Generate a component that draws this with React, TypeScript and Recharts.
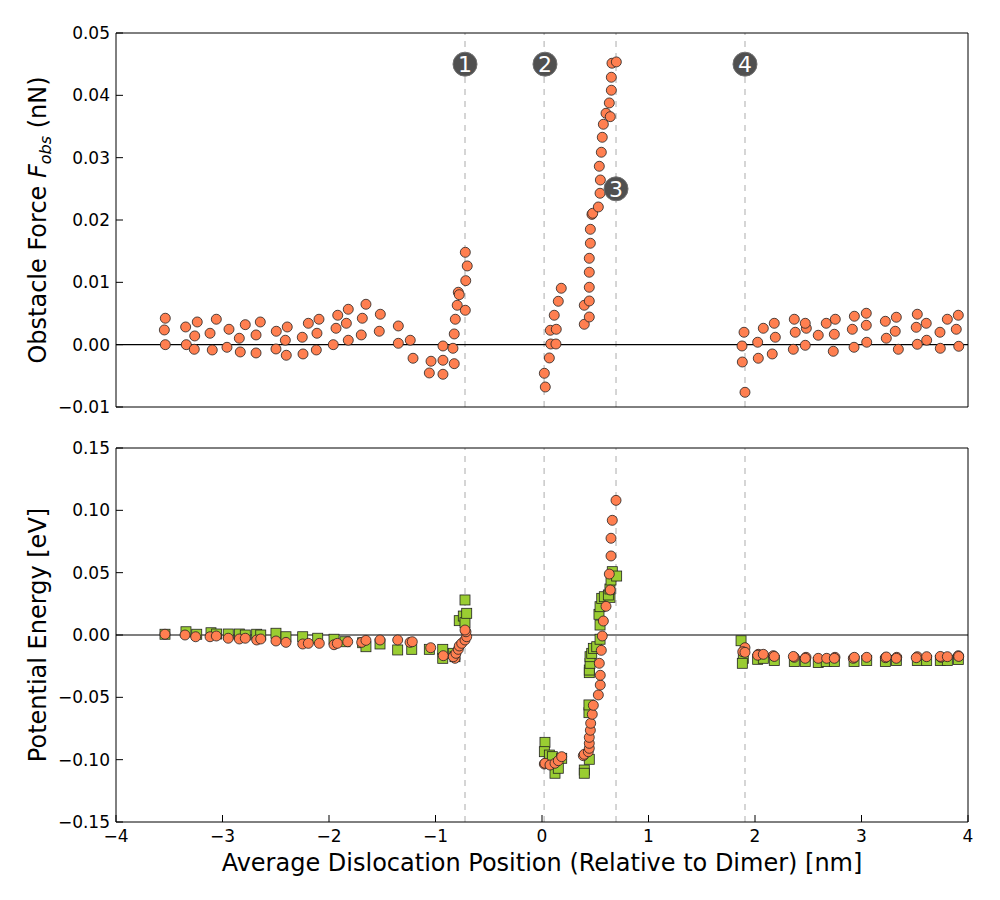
import React from "react";
import {
  ReferenceDot,
  ReferenceLine,
  Scatter,
  ScatterChart,
  XAxis,
  YAxis,
} from "recharts";

// Positions along the dislocation path (nm) paired with obstacle force (nN)
const forcePoints: [number, number][] = [
  [-3.537, 0.00424], [-3.546, 0.00236], [-3.537, 0.0], [-3.346, 0.00284], [-3.34, 0.0],
  [-3.237, 0.00364], [-3.261, 0.0014], [-3.265, -0.00074], [-3.058, 0.00408], [-3.117, 0.00183],
  [-3.096, -0.00085], [-2.939, 0.00247], [-2.842, 0.00103], [-2.958, -0.00042], [-2.833, -0.00117],
  [-2.786, 0.00321], [-2.685, 0.00156], [-2.645, 0.00364], [-2.685, -0.00133], [-2.495, 0.00215],
  [-2.498, -0.00069], [-2.392, 0.00284], [-2.41, 0.00071], [-2.401, -0.0017], [-2.251, 0.00119],
  [-2.244, -0.00149], [-2.194, 0.00343], [-2.094, 0.00408], [-2.113, 0.00183], [-2.119, -0.00085],
  [-1.918, 0.00472], [-1.934, 0.00263], [-1.96, 0.0], [-1.819, 0.00568], [-1.837, 0.00343],
  [-1.819, 0.00071], [-1.653, 0.00648], [-1.687, 0.00424], [-1.697, 0.00156], [-1.518, 0.00488],
  [-1.528, 0.00215], [-1.349, 0.003], [-1.349, 0.00022], [-1.237, 0.00071], [-1.211, -0.00218],
  [-1.042, -0.00266], [-1.058, -0.00454], [-0.93, -0.00021], [-0.93, -0.0025], [-0.93, -0.00475],
  [-0.836, -0.00058], [-0.824, -0.00305], [-0.824, 0.00172], [-0.814, 0.00408], [-0.796, 0.00632],
  [-0.786, 0.00841], [-0.777, 0.00802], [-0.72, 0.00552], [-0.716, 0.01027], [-0.702, 0.01263],
  [-0.72, 0.01482],
  [0.022, -0.00459], [0.031, -0.00679], [0.069, -0.00213], [0.078, 0.00231], [0.082, 0.00011],
  [0.131, 0.00011], [0.134, 0.00247], [0.115, 0.00472], [0.153, 0.00696], [0.181, 0.00905],
  [0.397, 0.00327], [0.444, 0.00444], [0.397, 0.00632], [0.444, 0.00701], [0.444, 0.00921],
  [0.444, 0.01162], [0.444, 0.01386], [0.454, 0.01627], [0.454, 0.01851], [0.469, 0.0209],
  [0.476, 0.02108], [0.529, 0.02209], [0.545, 0.02429], [0.548, 0.02642], [0.538, 0.02862],
  [0.557, 0.03087], [0.566, 0.03327], [0.576, 0.03536], [0.601, 0.03712], [0.641, 0.03658],
  [0.632, 0.03878], [0.651, 0.04082], [0.651, 0.0429], [0.657, 0.04515], [0.698, 0.04536],
  [1.878, -0.00021], [1.881, -0.00278], [1.897, 0.00199], [1.906, -0.00764], [2.025, 0.00039],
  [2.031, -0.00218], [2.078, 0.00263], [2.162, -0.00149], [2.191, 0.00119], [2.181, 0.00343],
  [2.36, -0.00074], [2.378, 0.00199], [2.369, 0.00408], [2.472, -0.0001], [2.482, 0.00263],
  [2.472, 0.00343], [2.594, 0.00151], [2.669, 0.00343], [2.735, -0.00106], [2.745, 0.00167],
  [2.754, 0.00408], [2.93, -0.00042], [2.914, 0.00247], [2.933, 0.00456], [3.049, 0.00039],
  [3.045, 0.00311], [3.045, 0.00504], [3.233, 0.00103], [3.317, 0.00215], [3.327, 0.0044],
  [3.224, 0.00375], [3.346, -0.00074], [3.524, 0.00006], [3.514, 0.00279], [3.524, 0.00488],
  [3.612, 0.00071], [3.608, 0.00343], [3.74, -0.00058], [3.737, 0.00199], [3.806, 0.00408],
  [3.913, -0.00026], [3.89, 0.00247], [3.909, 0.00472],
];

// Potential energy (eV), circle series
const energyCircles: [number, number][] = [
  [-3.54, 0.0006], [-3.352, 0.0], [-3.252, -0.0014], [-3.117, -0.0014], [-3.058, -0.0008],
  [-2.946, -0.0026], [-2.842, -0.0032], [-2.786, -0.0026], [-2.679, -0.004], [-2.641, -0.0032],
  [-2.498, -0.0048], [-2.404, -0.0059], [-2.247, -0.0072], [-2.194, -0.0067], [-2.091, -0.0067],
  [-1.953, -0.0078], [-1.922, -0.0067], [-1.824, -0.0054], [-1.693, -0.0059], [-1.653, -0.0043],
  [-1.521, -0.004], [-1.355, -0.004], [-1.239, -0.0059], [-1.218, -0.0054], [-1.045, -0.0102],
  [-0.927, -0.0166], [-0.817, -0.0187], [-0.833, -0.0174], [-0.808, -0.0147], [-0.786, -0.0115],
  [-0.777, -0.0088], [-0.754, -0.0067], [-0.723, -0.004], [-0.707, -0.0014], [-0.714, 0.0026],
  [-0.723, 0.004],
  [0.022, -0.1035], [0.028, -0.1029], [0.075, -0.1043], [0.122, -0.1029], [0.153, -0.1008],
  [0.185, -0.0976], [0.388, -0.0968], [0.397, -0.0957], [0.435, -0.0936], [0.444, -0.0909],
  [0.444, -0.0869], [0.444, -0.0821], [0.454, -0.0764], [0.457, -0.0708], [0.472, -0.0636],
  [0.482, -0.0564], [0.529, -0.0481], [0.547, -0.0401], [0.547, -0.0323], [0.538, -0.0227],
  [0.557, -0.0123], [0.566, -0.0008], [0.576, 0.0112], [0.601, 0.023], [0.641, 0.0361],
  [0.632, 0.0489], [0.648, 0.0634], [0.648, 0.0776], [0.66, 0.092], [0.695, 0.108],
  [1.906, -0.0102], [1.885, -0.0134], [1.906, -0.0139], [2.031, -0.0155], [2.025, -0.0162],
  [2.078, -0.0155], [2.172, -0.0166], [2.181, -0.0172], [2.369, -0.0179], [2.36, -0.0172],
  [2.479, -0.0179], [2.472, -0.0187], [2.594, -0.0187], [2.673, -0.0187], [2.751, -0.0179],
  [2.745, -0.0187], [2.923, -0.0187], [2.933, -0.0179], [3.049, -0.0179], [3.224, -0.0182],
  [3.233, -0.0176], [3.331, -0.0179], [3.327, -0.0187], [3.524, -0.0174], [3.514, -0.0182],
  [3.612, -0.0174], [3.746, -0.0179], [3.74, -0.0172], [3.806, -0.0174], [3.909, -0.0166],
  [3.913, -0.0172],
];

// Potential energy (eV), square series
const energySquares: [number, number][] = [
  [-3.54, 0.0006], [-3.343, 0.0026], [-3.242, 0.0006], [-3.108, 0.0018], [-3.055, 0.0008],
  [-2.946, 0.0008], [-2.842, 0.0008], [-2.786, 0.0], [-2.679, 0.0006], [-2.641, 0.0],
  [-2.498, 0.0014], [-2.404, -0.0014], [-2.247, -0.0014], [-2.106, -0.0026], [-1.953, -0.0034],
  [-1.85, -0.0054], [-1.684, -0.0062], [-1.653, -0.0094], [-1.521, -0.0072], [-1.355, -0.012],
  [-1.223, -0.0115], [-1.058, -0.0115], [-0.932, -0.0115], [-0.932, -0.0187], [-0.833, -0.0147],
  [-0.817, -0.0174], [-0.777, 0.0115], [-0.739, 0.0152], [-0.723, 0.0099], [-0.707, 0.0174],
  [-0.723, 0.0281],
  [0.028, -0.0861], [0.022, -0.0936], [0.069, -0.0963], [0.097, -0.0976], [0.122, -0.1109],
  [0.153, -0.1069], [0.185, -0.0989], [0.397, -0.1083], [0.397, -0.1109], [0.444, -0.0997],
  [0.441, -0.0623], [0.441, -0.0561], [0.444, -0.0302], [0.444, -0.0281], [0.451, -0.0227],
  [0.451, -0.0174], [0.467, -0.0147], [0.482, -0.0107], [0.514, -0.0094], [0.545, -0.0034],
  [0.545, 0.008], [0.535, 0.0166], [0.545, 0.0227], [0.561, 0.0294], [0.585, 0.0307],
  [0.638, 0.0302], [0.623, 0.0321], [0.638, 0.0369], [0.648, 0.0441], [0.66, 0.0508],
  [0.701, 0.0473],
  [1.869, -0.0046], [1.89, -0.0187], [1.881, -0.0227], [2.025, -0.0195], [2.078, -0.0187],
  [2.181, -0.0205], [2.369, -0.0213], [2.472, -0.0213], [2.594, -0.0221], [2.669, -0.0213],
  [2.745, -0.0213], [2.93, -0.0213], [3.049, -0.0205], [3.224, -0.0213], [3.327, -0.0205],
  [3.524, -0.0205], [3.612, -0.0205], [3.74, -0.0205], [3.806, -0.0205], [3.909, -0.0197],
];

const xTicks = [-4, -3, -2, -1, 0, 1, 2, 3, 4];
const forceTicks = [-0.01, 0, 0.01, 0.02, 0.03, 0.04, 0.05];
const energyTicks = [-0.15, -0.1, -0.05, 0, 0.05, 0.1, 0.15];

// Marked states along the path
const stateLines = [-0.723, 0.02, 0.695, 1.906];
const stateBadges = [
  { label: "1", x: -0.723, y: 0.045 },
  { label: "2", x: 0.028, y: 0.045 },
  { label: "3", x: 0.695, y: 0.025 },
  { label: "4", x: 1.906, y: 0.045 },
];

const FONT = "DejaVu Sans, Verdana, sans-serif";
const CORAL = "#ff7f50";
const GREEN = "#9acd32";
const EDGE = "#222";

const toRows = (pts: [number, number][]) => pts.map(([x, y]) => ({ x, y }));

const fmtY = (v: number) => v.toFixed(2).replace("-", "\u2212");
const fmtX = (v: number) => String(v).replace("-", "\u2212");

const dot = (p: any) => (
  <circle cx={p.cx} cy={p.cy} r={5} fill={CORAL} stroke={EDGE} strokeWidth={0.8} />
);
const square = (p: any) => (
  <rect x={p.cx - 5} y={p.cy - 5} width={10} height={10} fill={GREEN} stroke={EDGE} strokeWidth={0.8} />
);

const tickFont = { fill: "#000", fontSize: 17, fontFamily: FONT };

function Frame({ yTicks, yDomain, showX }: { yTicks: number[]; yDomain: [number, number]; showX: boolean }) {
  return (
    <>
      <XAxis
        xAxisId="b"
        type="number"
        dataKey="x"
        domain={[-4, 4]}
        ticks={xTicks}
        allowDataOverflow
        height={showX ? 78 : 1}
        tickSize={-7}
        tickMargin={15}
        tick={showX ? tickFont : false}
        tickFormatter={fmtX}
        stroke="#000"
        interval={0}
      />
      <XAxis
        xAxisId="t"
        orientation="top"
        type="number"
        domain={[-4, 4]}
        ticks={xTicks}
        allowDataOverflow
        height={1}
        tickSize={-7}
        tick={false}
        stroke="#000"
        interval={0}
      />
      <YAxis
        yAxisId="l"
        type="number"
        dataKey="y"
        domain={yDomain}
        ticks={yTicks}
        allowDataOverflow
        width={116}
        tickSize={-7}
        tickMargin={13}
        tick={tickFont}
        tickFormatter={fmtY}
        stroke="#000"
        interval={0}
      />
      <YAxis
        yAxisId="r"
        orientation="right"
        type="number"
        domain={yDomain}
        ticks={yTicks}
        allowDataOverflow
        width={1}
        tickSize={-7}
        tick={false}
        stroke="#000"
        interval={0}
      />
      {stateLines.map((x) => (
        <ReferenceLine
          key={x}
          xAxisId="b"
          yAxisId="l"
          x={x}
          stroke="#c8c8c8"
          strokeWidth={1.5}
          strokeDasharray="6 6"
        />
      ))}
      <ReferenceLine xAxisId="b" yAxisId="l" y={0} stroke="#000" strokeWidth={1.2} />
    </>
  );
}

export default function App() {
  const force = toRows(forcePoints);
  const circles = toRows(energyCircles);
  const squares = toRows(energySquares);

  return (
    <div style={{ position: "absolute", left: 0, top: 0, width: 1000, height: 900, background: "#fff" }}>
      <div style={{ position: "absolute", left: 0, top: 0 }}>
        <ScatterChart width={1000} height={440} margin={{ top: 32, right: 31, bottom: 32, left: 0 }}>
          {Frame({ yTicks: forceTicks, yDomain: [-0.01, 0.05], showX: false })}
          <Scatter xAxisId="b" yAxisId="l" data={force} shape={dot} isAnimationActive={false} />
          {stateBadges.map((b) => (
            <ReferenceDot
              key={b.label}
              xAxisId="b"
              yAxisId="l"
              x={b.x}
              y={b.y}
              r={12}
              fill="#505050"
              stroke="#707070"
              strokeWidth={1}
              label={{ value: b.label, position: "center", fill: "#fff", fontSize: 22, fontFamily: FONT }}
            />
          ))}
        </ScatterChart>
      </div>
      <div style={{ position: "absolute", left: 0, top: 415 }}>
        <ScatterChart width={1000} height={485} margin={{ top: 32, right: 31, bottom: 0, left: 0 }}>
          {Frame({ yTicks: energyTicks, yDomain: [-0.15, 0.15], showX: true })}
          <Scatter xAxisId="b" yAxisId="l" data={squares} shape={square} isAnimationActive={false} />
          <Scatter xAxisId="b" yAxisId="l" data={circles} shape={dot} isAnimationActive={false} />
        </ScatterChart>
      </div>
      <svg
        width={1000}
        height={900}
        style={{ position: "absolute", left: 0, top: 0, pointerEvents: "none" }}
        fontFamily={FONT}
      >
        <text x={0} y={0} transform="translate(46 220) rotate(-90)" textAnchor="middle" fontSize={24}>
          Obstacle Force{" "}
          <tspan fontStyle="italic">F</tspan>
          <tspan fontStyle="italic" fontSize={16} dy={5}>obs</tspan>
          <tspan dy={-5}> (nN)</tspan>
        </text>
        <text x={0} y={0} transform="translate(46 635) rotate(-90)" textAnchor="middle" fontSize={24}>
          Potential Energy [eV]
        </text>
        <text x={542} y={871} textAnchor="middle" fontSize={24}>
          Average Dislocation Position (Relative to Dimer) [nm]
        </text>
      </svg>
    </div>
  );
}
